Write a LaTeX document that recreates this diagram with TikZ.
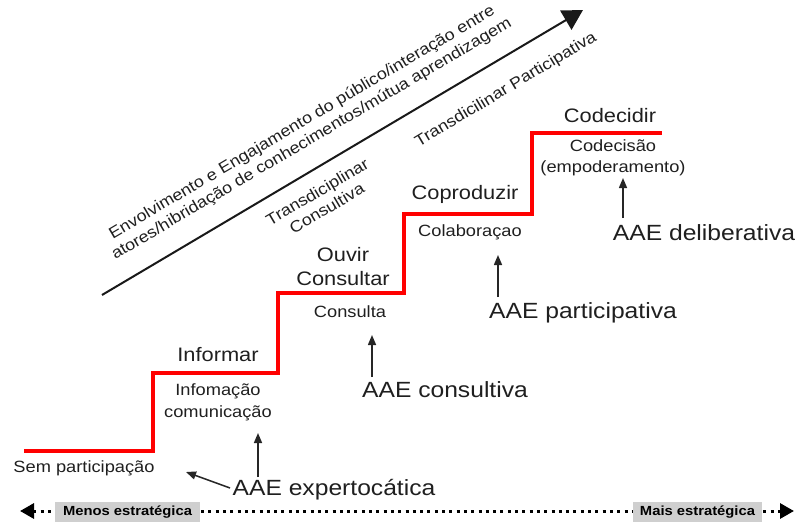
\documentclass[tikz,border=0pt]{standalone}
\usepackage{fontspec}
\setmainfont[FakeStretch=1.12]{Liberation Sans}
\usetikzlibrary{arrows.meta}
\begin{document}
\begin{tikzpicture}[x=1pt,y=-1pt,
  lbl/.style={inner sep=0pt, anchor=base, text=black!88},
  big/.style={lbl, font=\fontsize{19.5}{23}\selectfont},
  small/.style={lbl, font=\fontsize{16.3}{20}\selectfont},
  aae/.style={lbl, font=\fontsize{22}{26}\selectfont},
  diag/.style={inner sep=0pt, align=center, text=black!88, font=\fontsize{16}{19}\selectfont},
  up/.style={line width=1.5pt, draw=black!85, -{Triangle[length=10pt,width=8pt]}},
  stair/.style={draw=red, line width=4pt, line join=miter},
  trend/.style={line width=2pt, draw=black!90, -{Triangle[length=20pt,width=22pt]}},
  scale line/.style={line width=3pt, dash pattern=on 3pt off 4.3pt, draw=black,
    {Triangle[length=14pt,width=15pt]}-{Triangle[length=14pt,width=15pt]}},
  tag/.style={fill=black!19, inner sep=0pt, minimum height=20pt,
    font=\bfseries\fontsize{13.2}{15}\selectfont}
]
\useasboundingbox (0,0) rectangle (798,524);

% staircase of participation levels
\draw[stair] (24,451) -| (153,373) -| (278,293) -| (404,214) -| (532,133) -- (662,133);

% rising engagement axis
\coordinate (g0) at (102,295);
\coordinate (g1) at (583,10);
\draw[trend] (g0) -- (g1);
\node[diag, rotate=30.5] (eng) at (307,131)
  {Envolvimento e Engajamento do público/interação entre\\
   atores/hibridação de conhecimentos/mútua aprendizagem};
\node[diag, rotate=30.5] (tcons) at (322,200) {Transdiciplinar\\Consultiva};
\node[diag, rotate=31] (tpart) at (506,90) {Transdicilinar Participativa};

% level labels
\node[small] (sem) at (84,472) {Sem participação};
\node[big] (inf) at (218,361) {Informar};
\node[small] (inf1) at (218,395) {Infomação};
\node[small] (inf2) at (218,417) {comunicação};
\node[big] (ouv) at (343,261) {Ouvir};
\node[big] (cons) at (343,285) {Consultar};
\node[small] (consa) at (350,317) {Consulta};
\node[big] (cop) at (465,200) {Coproduzir};
\node[small] (col) at (470,236) {Colaboraçao};
\node[big] (codd) at (610,123) {Codecidir};
\node[small] (codc) at (613,152) {Codecisão};
\node[small] (emp) at (613,172) {(empoderamento)};

% types of assessment
\node[aae] (aex) at (334,495) {AAE expertocática};
\node[aae] (acon) at (445,397) {AAE consultiva};
\node[aae] (apar) at (583,318) {AAE participativa};
\node[aae] (adel) at (704,240) {AAE deliberativa};

\coordinate (e1s) at (230,488); \coordinate (e1t) at (186,472);
\coordinate (e2s) at (258,477); \coordinate (e2t) at (258,433);
\coordinate (c1s) at (372,377); \coordinate (c1t) at (372,335);
\coordinate (p1s) at (498,297); \coordinate (p1t) at (498,255);
\coordinate (d1s) at (623,218); \coordinate (d1t) at (623,178);
\draw[up] (e1s) -- (e1t);
\draw[up] (e2s) -- (e2t);
\draw[up] (c1s) -- (c1t);
\draw[up] (p1s) -- (p1t);
\draw[up] (d1s) -- (d1t);

% strategic scale
\coordinate (s0) at (20,511);
\coordinate (s1) at (794,511);
\draw[scale line] (s0) -- (s1);
\node[tag, minimum width=145pt] (menos) at (127.5,512) {Menos estratégica};
\node[tag, minimum width=129pt] (mais) at (697.5,512) {Mais estratégica};
\end{tikzpicture}
\end{document}
